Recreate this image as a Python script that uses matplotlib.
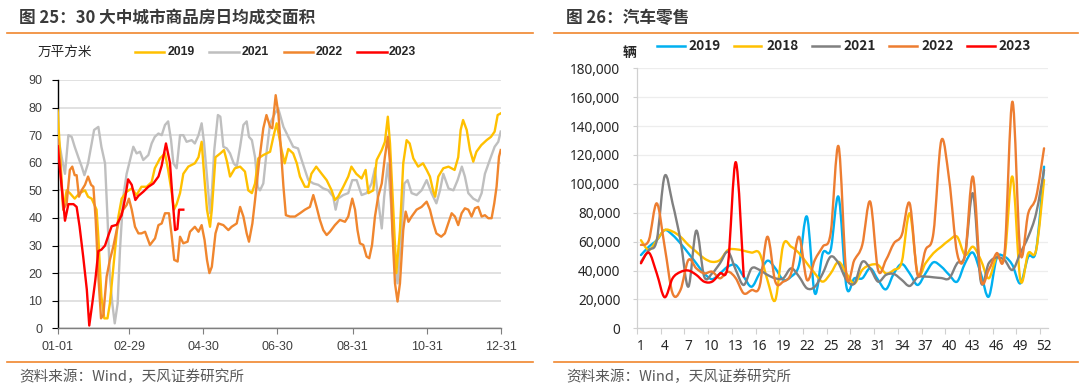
import matplotlib
matplotlib.use("Agg")
import matplotlib.pyplot as plt
from matplotlib.path import Path
from matplotlib.patches import PathPatch
from matplotlib.lines import Line2D
from matplotlib.ticker import FuncFormatter

plt.rcParams['font.family'] = ['Liberation Sans', 'Noto Sans CJK SC', 'DejaVu Sans']

# ---------------- Left chart data: 30 major cities, daily avg transaction area (10k m2) ----------------
x_tick_days = [0, 59, 120, 181, 243, 304, 365]
x_tick_labels = ['01-01', '02-29', '04-30', '06-30', '08-31', '10-31', '12-31']

days_2019 = [0, 2, 4.6, 7.4, 10, 14, 18, 22.5, 25, 28,
             32, 33.5, 36, 38.4, 41, 43, 46.7, 50, 52.7, 56.8,
             61, 65, 69, 73.3, 77.4, 80, 84.3, 88.4, 91, 94,
             95.8, 98, 100.8, 103.5, 107.6, 113, 116, 118.6, 121, 123,
             125.5, 127, 130, 134, 137, 139.5, 142, 146, 150.3, 154.3,
             157, 160, 162.6, 165.3, 169.4, 175, 177.7, 180.4, 184.5, 187,
             190, 194, 197, 199.6, 203.7, 206.5, 209, 213, 217.5, 221.6,
             225.7, 228.4, 231, 235.3, 239.4, 242, 246, 250.4, 253.7, 256,
             260, 262.8, 267, 269.6, 272, 273.8, 276.5, 279, 282, 284.7,
             287.5, 290, 293, 297, 301, 304, 306.7, 309.5, 311, 313.6,
             317.7, 322, 327, 330, 332, 334, 337, 339.7, 342.4, 345,
             349, 353.4, 357, 360, 362.5, 365]
vals_2019 = [79, 63, 43, 50, 49, 47, 49, 50, 47.7, 47,
             43, 33, 11.5, 3.6, 3.6, 9, 26, 40.5, 47, 49.5,
             50.7, 48.3, 51.3, 51.3, 53, 58, 61.6, 63.4, 57.4, 49,
             43, 45, 49, 56, 58.6, 59.8, 62, 67.6, 53.7, 43,
             36.8, 43, 62, 63.4, 64.6, 60.4, 55, 58, 58.6, 56.8,
             50, 49, 52.5, 61.6, 62.8, 64, 69.4, 74.3, 64.6, 59.8,
             65, 63.4, 59.8, 55, 51.3, 51.3, 56, 58.6, 56, 53.7,
             50, 46.5, 47.7, 51.3, 55, 58.6, 56, 54.3, 57.4, 49,
             50, 61, 64.6, 67.6, 76.7, 67, 43, 20, 35.6, 59.8,
             68.2, 67, 61.6, 58.6, 59.8, 57.4, 55, 49.5, 47.7, 55,
             58, 58.6, 57.4, 62, 71.9, 75.5, 71.9, 64.6, 60.4, 64,
             66.4, 68.2, 69.4, 71.3, 77.3, 77.9]

days_2021 = [0, 3.3, 6, 8.8, 11.5, 14, 17, 19.8, 22, 25,
             28, 30, 33.5, 36, 39, 41, 43, 45, 47, 49.4,
             51.3, 54, 56.8, 59.6, 62.3, 65, 67.8, 70.5, 74.7, 77.4,
             80, 83, 85.7, 88.4, 91, 93.4, 95.3, 98, 100.8, 103.5,
             106.2, 110.4, 113, 116, 118.6, 120.5, 123, 125.5, 127, 129,
             132, 134, 136.5, 139.3, 142, 145, 147.5, 150.3, 153, 155.7,
             157.6, 160, 162.6, 164.8, 166.7, 169.4, 172, 175, 179, 181.7,
             186, 190, 194, 198, 201, 203.7, 206.5, 210.6, 214.7, 218.8,
             223, 227, 229, 231, 235.3, 239.4, 242.7, 246.3, 250.4, 254.5,
             258.6, 261.4, 264, 267, 269, 272, 274.6, 277.3, 280, 283,
             285.6, 288.3, 291.6, 295.7, 299.8, 304, 308, 312, 315, 317.7,
             322, 326, 329.5, 333, 335.5, 338.3, 342.4, 346.5, 349.3, 352,
             356, 360, 363, 365]
vals_2021 = [70.6, 62, 56, 70, 69.4, 65.8, 62, 58.6, 55.5, 59.8,
             67, 71.9, 73, 65.8, 59.8, 40.5, 18.7, 9, 1.8, 9,
             28.4, 47.7, 56, 61, 65.8, 63.4, 64, 61, 62.8, 67,
             69.4, 70.6, 70, 73.7, 75, 68.2, 59.8, 58, 70, 70,
             67.6, 68.2, 67, 70, 74.3, 67.6, 55, 41.7, 49, 64.6,
             77.3, 76.7, 65.8, 65.2, 63.4, 59.8, 58.6, 65.8, 73.7, 75,
             69.4, 68.2, 62, 51.3, 50, 52.5, 63.4, 74.3, 77.9, 79.7,
             73, 69.4, 65.8, 65.2, 61, 57.4, 53.7, 52.5, 52, 50.7,
             50, 47.7, 43, 47, 48.3, 49, 53.7, 53.7, 48.3, 49,
             52.5, 58, 46.5, 36.2, 47.7, 59.8, 45.3, 26, 16.3, 33,
             52.5, 53.7, 49, 48.3, 50, 53.7, 49, 45.3, 50, 56,
             50.7, 50, 53.7, 58.6, 55, 49, 47, 46, 49, 56,
             61, 65.8, 67.6, 71.3]

days_2022 = [0, 2, 4.6, 7.4, 10, 12, 14, 15.6, 17.5, 19.7,
             22.5, 25, 27.5, 29.4, 31.3, 33.5, 35.7, 37.6, 40.3, 43,
             45.8, 48.6, 51.3, 54, 56.8, 58.7, 61, 63.7, 66.5, 69,
             72, 76, 80.2, 83, 85.7, 88.4, 91.7, 94, 96, 98.8,
             100.8, 103.5, 107, 109, 113, 116, 118.6, 121, 123, 125,
             127, 130, 132.4, 136.5, 140.6, 143.3, 147.5, 150.3, 153, 155.7,
             157.6, 160.4, 162.6, 165.8, 169.4, 172, 175, 176.8, 179.6, 181.8,
             183, 186, 188, 191.4, 195.5, 199.6, 203.7, 207.8, 210.6, 213.3,
             216, 218.8, 221.6, 224.3, 228.4, 232.5, 236.7, 239.4, 242.7, 245,
             247, 249, 251.8, 254.5, 256.7, 259, 261.4, 264, 267, 269.6,
             272, 273.8, 275.7, 277.9, 280, 282, 284.7, 286.7, 289, 291.6,
             295.7, 299.8, 304, 306.7, 309.5, 312, 316, 319, 321.8, 324.6,
             327.3, 330, 332.8, 335.5, 338.3, 341, 343.8, 346.5, 349.3, 352,
             354.8, 357.5, 359.7, 361.6, 363.6, 365]
vals_2022 = [68.2, 59.8, 43, 45.3, 57.4, 58.6, 55.5, 55.5, 47.7, 50,
             52, 55, 52, 51.3, 39.3, 18.7, 3.6, 4.8, 18.7, 24.8,
             29.6, 35.6, 40.5, 43, 44.7, 47, 43, 36.8, 34.4, 34.4,
             35, 30.2, 32.6, 37.4, 38, 41.7, 41.7, 33.2, 24.8, 24.2,
             33.2, 30.8, 31.4, 35, 36.8, 35, 37.4, 32, 24.8, 20,
             22.3, 34.4, 38, 37.4, 35.6, 36.8, 38, 44, 40.5, 34.4,
             31.4, 38, 46.5, 59.8, 72.5, 77.3, 73, 72.5, 84.5, 77.9,
             70.6, 51.3, 41, 40.5, 40.5, 41.7, 43, 44, 48.3, 44,
             39.3, 35.6, 33.8, 35, 37.4, 39.3, 38.6, 40.5, 47, 43,
             35.6, 30.8, 30.2, 26, 25.4, 30.2, 40.5, 47.7, 52.5, 62.2,
             69.4, 59.8, 35.6, 16.3, 9.7, 16.3, 35.6, 42.3, 38.6, 40.5,
             43, 44, 45.9, 43, 38, 34.4, 33.2, 34.4, 38, 41.7,
             40.5, 37.4, 41.7, 43.5, 43, 40.5, 43.5, 44, 40.5, 41,
             39.9, 39.9, 45.3, 51.3, 62.2, 64.6]

days_2023 = [0, 6, 8.8, 13, 15.6, 18, 21, 24, 26, 28.5,
             31, 33.5, 36, 39, 42, 44.5, 48.6, 52.7, 55.5, 58,
             61, 64, 66.5, 70.5, 74.7, 78.8, 83, 85.7, 89.2, 92.5,
             94.5, 96.7, 98.6, 100, 103.5]
vals_2023 = [66, 39, 45, 45, 44, 37, 26, 14, 1, 9,
             17.5, 28, 28.5, 30, 34, 37, 37.5, 41, 47, 54,
             52, 46.5, 48, 49.5, 51.3, 52.5, 55, 59, 67, 60,
             47.7, 35.6, 36, 43, 43]

# ---------------- Right chart data: weekly car retail sales (thousand vehicles) ----------------
weeks = list(range(1, 53))
week_tick_labels = [1, 4, 7, 10, 13, 16, 19, 22, 25, 28, 31, 34, 37, 40, 43, 46, 49, 52]

sales_2019 = [50.7, 56.5, 61, 68, 64.6, 58.8, 52, 45, 38, 34,
              38, 42.7, 43.8, 35.8, 28.8, 38, 46.8, 41.5, 33.5, 35.8,
              43.8, 77.3, 24.2, 52, 54.2, 91, 28.8, 34.6, 34.6, 41.5,
              33.5, 27, 38, 44.5, 38, 30, 38, 45.7, 42.7, 37,
              32.3, 45, 52.4, 38, 21.9, 48.4, 49.6, 43.8, 31.1, 49.6,
              54.2, 111.9]
sales_2018 = [61, 54.2, 61, 68, 67, 63.4, 57.7, 53, 48.4, 46,
              47.3, 54.2, 54.7, 53.7, 52.4, 52, 33.5, 19.6, 57.7, 56.5,
              52, 45, 38, 32.3, 38, 46, 38, 31, 40.4, 43.8,
              43.8, 38, 40.4, 46, 79.6, 38, 45, 52, 56.5, 61,
              63.4, 50.7, 56.5, 47.3, 34.6, 49.6, 49.6, 105, 33.5, 52,
              54.2, 102.7]
sales_2021 = [46, 54.2, 61, 105.4, 86.5, 61, 28.8, 67.6, 35.8, 38,
              45, 53, 40.4, 30, 41.5, 40.4, 37, 34.6, 34.6, 41.5,
              35.8, 27.7, 28.8, 38, 49.6, 45, 33.5, 31, 46, 41.5,
              32.3, 37, 37.6, 33.5, 29.3, 35.3, 35.8, 35.3, 34.8, 34.6,
              45, 50.7, 93.4, 32.3, 45, 49.1, 47.3, 40.4, 52, 63.4,
              79.6, 109.6]
sales_2022 = [57.7, 61, 86.5, 56.5, 24.2, 26.5, 47.3, 41.5, 38, 39.2,
              34.6, 39.2, 34.6, 24.2, 26.5, 28.8, 63.4, 32.3, 32.3, 38,
              63.4, 33.5, 47.3, 56.5, 65.8, 126, 37, 47.3, 57.7, 87.7,
              40.4, 47.3, 58.8, 64.6, 86.5, 36.9, 54.2, 65.8, 130, 102.7,
              52, 50.7, 105, 34.6, 40.4, 52, 52, 156.9, 52, 79.6,
              91, 124.6]
sales_2023 = [45, 52.4, 38, 21.5, 34.6, 39, 40, 37, 32.3, 32.3,
              38, 43.8, 115, 35.8]

# ---------------- Figure ----------------
W, H = 1080, 390
fig = plt.figure(figsize=(W / 100, H / 100), dpi=100)
fig.patch.set_facecolor('white')

def fx(px):
    return px / W

def fy(py):
    return 1 - py / H

CJK = ['Noto Sans CJK SC', 'DejaVu Sans']
RULE = '#F0862E'
TXT = '#404040'

# titles and rules
fig.text(fx(19), fy(18), '图 25：30 大中城市商品房日均成交面积', family=CJK, fontsize=12,
         fontweight='bold', color='#3A3A3A', va='center', ha='left')
fig.text(fx(566), fy(18), '图 26：汽车零售', family=CJK, fontsize=12,
         fontweight='bold', color='#3A3A3A', va='center', ha='left')
for x0, x1 in [(7, 533), (554, 1078)]:
    fig.add_artist(Line2D([fx(x0), fx(x1)], [fy(33), fy(33)], transform=fig.transFigure,
                          color=RULE, lw=1.2))
    fig.add_artist(Line2D([fx(x0), fx(x1)], [fy(362), fy(362)], transform=fig.transFigure,
                          color=RULE, lw=1.2))
fig.text(fx(19), fy(377), '资料来源：Wind，天风证券研究所', family=CJK, fontsize=10.5,
         color='#595959', va='center', ha='left')
fig.text(fx(566), fy(377), '资料来源：Wind，天风证券研究所', family=CJK, fontsize=10.5,
         color='#595959', va='center', ha='left')

# ---------------- Left axes ----------------
axL = fig.add_axes([fx(57.7), fy(328.3), fx(500.7 - 57.7), (328.3 - 80) / H])
left_series = [
    (days_2021, vals_2021, '#BFBFBF', '2021', 2),
    (days_2019, vals_2019, '#FFC000', '2019', 3),
    (days_2022, vals_2022, '#F0862E', '2022', 4),
    (days_2023, vals_2023, '#FF0000', '2023', 5),
]
for d, v, c, lab, z in left_series:
    axL.plot(d, v, color=c, lw=1.7, zorder=z, solid_joinstyle='round')
axL.set_xlim(0, 365)
axL.set_ylim(0, 90)
axL.set_yticks(range(0, 91, 10))
axL.set_xticks(x_tick_days)
axL.set_xticklabels(x_tick_labels)
axL.grid(axis='y', color='#D9D9D9', lw=1.1, zorder=0)
axL.set_axisbelow(True)
for s in ['top', 'right']:
    axL.spines[s].set_visible(False)
axL.spines['left'].set_color('#000000')
axL.spines['left'].set_linewidth(1.0)
axL.spines['bottom'].set_color('#7F7F7F')
axL.spines['bottom'].set_linewidth(1.0)
axL.tick_params(axis='y', length=4, width=0.8, color='#000000', pad=7,
                labelsize=9, labelcolor=TXT)
axL.tick_params(axis='x', length=4, width=0.8, color='#7F7F7F', pad=5,
                labelsize=9, labelcolor=TXT)

# left legend (manual)
fig.text(fx(38), fy(52), '万平方米', family=CJK, fontsize=9.8, color='#262626',
         va='center', ha='left')
leg_left = [(135, 164, 168, '#FFC000', '2019'), (209, 239, 242, '#BFBFBF', '2021'),
            (284, 313, 316, '#F0862E', '2022'), (357, 387, 389, '#FF0000', '2023')]
for x0, x1, xt, c, lab in leg_left:
    fig.add_artist(Line2D([fx(x0), fx(x1)], [fy(52), fy(52)], transform=fig.transFigure,
                          color=c, lw=1.8))
    fig.text(fx(xt), fy(52), lab, fontsize=8.8, fontweight='bold', color='#262626',
             va='center', ha='left')

# ---------------- Right axes ----------------
axR = fig.add_axes([fx(637), fy(328.3), fx(1048 - 637), (328.3 - 68.3) / H])

def smooth_path(xs, ys):
    pts = list(zip(xs, ys))
    n = len(pts)
    verts = [pts[0]]
    codes = [Path.MOVETO]
    for i in range(n - 1):
        p0 = pts[i - 1] if i > 0 else pts[i]
        p1 = pts[i]
        p2 = pts[i + 1]
        p3 = pts[i + 2] if i + 2 < n else pts[i + 1]
        c1 = (p1[0] + (p2[0] - p0[0]) / 6, p1[1] + (p2[1] - p0[1]) / 6)
        c2 = (p2[0] - (p3[0] - p1[0]) / 6, p2[1] - (p3[1] - p1[1]) / 6)
        verts += [c1, c2, p2]
        codes += [Path.CURVE4] * 3
    return Path(verts, codes)

right_series = [
    (sales_2019, '#00B0F0', '2019'),
    (sales_2018, '#FFC000', '2018'),
    (sales_2021, '#808080', '2021'),
    (sales_2022, '#ED7D31', '2022'),
    (sales_2023, '#FF0000', '2023'),
]
for z, (vals, c, lab) in enumerate(right_series):
    xs = weeks[:len(vals)]
    ys = [v * 1000 for v in vals]
    axR.add_patch(PathPatch(smooth_path(xs, ys), fill=False, edgecolor=c, lw=1.7,
                            joinstyle='round', capstyle='round', zorder=3 + z))
axR.set_xlim(0.5, 52.5)
axR.set_ylim(0, 180000)
axR.set_yticks(range(0, 180001, 20000))
axR.yaxis.set_major_formatter(FuncFormatter(lambda v, p: f'{int(v):,}'))
axR.set_xticks(week_tick_labels)
axR.set_xticklabels([str(w) for w in week_tick_labels])
axR.set_xticks([0.5 + 3 * k for k in range(18)], minor=True)
axR.tick_params(axis='x', which='major', length=0, pad=8, labelsize=9.8, labelcolor='#262626')
axR.tick_params(axis='x', which='minor', length=4, width=0.8, color='#D0D0D0')
axR.tick_params(axis='y', length=3, width=0.8, color='#D0D0D0', pad=9,
                labelsize=9.8, labelcolor='#262626')
for lab in axR.get_xticklabels() + axR.get_yticklabels():
    lab.set_family(['Noto Sans', 'DejaVu Sans'])
axR.grid(axis='y', color='#EDEDED', lw=0.9, zorder=0)
axR.set_axisbelow(True)
for s in ['top', 'right']:
    axR.spines[s].set_visible(False)
for s in ['left', 'bottom']:
    axR.spines[s].set_color('#D0D0D0')
    axR.spines[s].set_linewidth(0.9)

# right legend (manual)
fig.text(fx(623), fy(53), '辆', family=CJK, fontsize=10, fontweight='bold', color='#262626',
         va='center', ha='left')
leg_right = [(657, 685, 688, '#00B0F0', '2019'), (734, 761, 766, '#FFC000', '2018'),
             (812, 839, 843, '#808080', '2021'), (889, 917, 921, '#ED7D31', '2022'),
             (967, 995, 998, '#FF0000', '2023')]
for x0, x1, xt, c, lab in leg_right:
    fig.add_artist(Line2D([fx(x0), fx(x1)], [fy(46), fy(46)], transform=fig.transFigure,
                          color=c, lw=1.8))
    fig.text(fx(xt), fy(46), lab, family=CJK, fontsize=9.8,
             fontweight='bold', color='#262626', va='center', ha='left')

fig.savefig('out.png', dpi=100, facecolor='white')
